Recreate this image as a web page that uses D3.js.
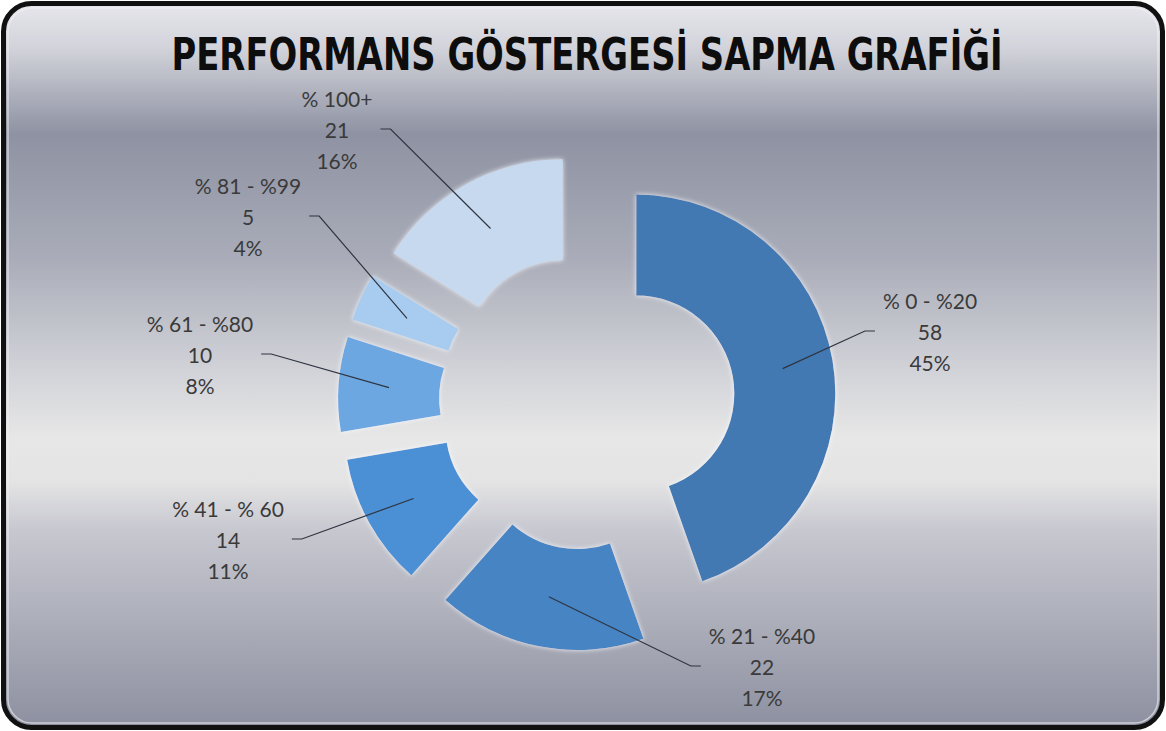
<!DOCTYPE html>
<html>
<head>
<meta charset="utf-8">
<title>Performans Göstergesi Sapma Grafiği</title>
<script src="https://d3js.org/d3.v7.min.js"></script>
<style>
  body { margin: 0; background: #fff; }
</style>
</head>
<body>
<div id="chart"></div>
<script>
// data
const categories = ["% 0 - %20", "% 21 - %40", "% 41 - % 60", "% 61 - %80", "% 81 - %99", "% 100+"];
const counts = [58, 22, 14, 10, 5, 21];
const percents = ["45%", "17%", "11%", "8%", "4%", "16%"];
const sliceColors = ["#4279b3", "#4684c3", "#4b90d4", "#6ca7e1", "#a8ccf0", "#c6d9ef"];

// label anchors (middle line), relative to the donut centre
const labelOffsets = [[343, -69], [175, 266], [-359, 139], [-387, -46], [-339, -184], [-250, -271]];

const width = 1166, height = 731;
const cx = 587, cy = 402;
const outerR = 199, innerR = 98, explode = 50;

const svg = d3.select("#chart").append("svg")
    .attr("width", width)
    .attr("height", height);

const defs = svg.append("defs");

// background gradient
const bg = defs.append("linearGradient")
    .attr("id", "bg")
    .attr("x1", 0).attr("y1", 0).attr("x2", 0).attr("y2", 1);
[[0, "#e6e6ec"], [0.06, "#d3d4db"], [0.18, "#8e92a2"], [0.35, "#a9acb8"],
 [0.5, "#d0d1d7"], [0.6, "#e7e7e7"], [0.66, "#e4e4e4"], [0.73, "#c6c7cf"], [1, "#8d90a0"]]
    .forEach(s => bg.append("stop").attr("offset", s[0]).attr("stop-color", s[1]));

const glow = defs.append("filter").attr("id", "glow")
    .attr("x", -0.1).attr("y", -0.1).attr("width", 1.2).attr("height", 1.2);
glow.append("feGaussianBlur").attr("in", "SourceGraphic").attr("stdDeviation", 2.5).attr("result", "b");
glow.append("feColorMatrix").attr("in", "b").attr("type", "matrix")
    .attr("values", "0 0 0 0 0.93  0 0 0 0 0.96  0 0 0 0 1  0 0 0 0.9 0").attr("result", "w");
const gm = glow.append("feMerge");
gm.append("feMergeNode").attr("in", "w");
gm.append("feMergeNode").attr("in", "SourceGraphic");

// frame
svg.append("rect")
    .attr("x", 3.5).attr("y", 3.5)
    .attr("width", width - 7).attr("height", height - 7)
    .attr("rx", 28).attr("ry", 28)
    .attr("fill", "url(#bg)")
    .attr("stroke", "#111")
    .attr("stroke-width", 5);
svg.append("rect")
    .attr("x", 8).attr("y", 8)
    .attr("width", width - 16).attr("height", height - 16)
    .attr("rx", 24).attr("ry", 24)
    .attr("fill", "none")
    .attr("stroke", "#f4f4f6")
    .attr("stroke-opacity", 0.6)
    .attr("stroke-width", 1.5);

// title
svg.append("text")
    .attr("x", cx)
    .attr("y", 70)
    .attr("text-anchor", "middle")
    .attr("font-family", "'Liberation Sans Narrow', 'DejaVu Sans Condensed', sans-serif")
    .attr("font-weight", "bold")
    .attr("font-size", 44)
    .attr("fill", "#0d0d0d")
    .attr("textLength", 831)
    .attr("lengthAdjust", "spacingAndGlyphs")
    .text("PERFORMANS GÖSTERGESİ SAPMA GRAFİĞİ");

// donut
const pie = d3.pie().sort(null).value(d => d)(counts);
const arc = d3.arc().innerRadius(innerR).outerRadius(outerR);

const slices = pie.map((p, i) => {
    const mid = (p.startAngle + p.endAngle) / 2;
    return { p, i, dx: Math.sin(mid) * explode, dy: -Math.cos(mid) * explode };
});

const g = svg.append("g").attr("transform", `translate(${cx},${cy})`);

g.selectAll("path.slice")
    .data(slices)
    .join("path")
    .attr("class", "slice")
    .attr("transform", d => `translate(${d.dx},${d.dy})`)
    .attr("d", d => arc(d.p))
    .attr("fill", d => sliceColors[d.i])
    .attr("filter", "url(#glow)");

// labels
const lineH = 31;
const labels = g.selectAll("g.label")
    .data(slices)
    .join("g")
    .attr("class", "label")
    .attr("transform", d => `translate(${labelOffsets[d.i][0]},${labelOffsets[d.i][1]})`);

labels.each(function(d) {
    const lg = d3.select(this);
    const lines = [categories[d.i], String(counts[d.i]), percents[d.i]];
    lines.forEach((t, k) => {
        lg.append("text")
            .attr("x", 0)
            .attr("y", (k - 1) * lineH)
            .attr("dy", "0.35em")
            .attr("text-anchor", "middle")
            .attr("font-family", "Lato, 'Liberation Sans', sans-serif")
            .attr("font-size", 21)
            .attr("fill", "#3a3a3a")
            .text(t);
    });
    let w = 0;
    lg.selectAll("text").each(function() { w = Math.max(w, this.getComputedTextLength()); });
    d.halfW = w / 2;
});

// leader lines
g.selectAll("path.leader")
    .data(slices)
    .join("path")
    .attr("class", "leader")
    .attr("fill", "none")
    .attr("stroke", "#2e3440")
    .attr("stroke-width", 1.2)
    .attr("d", d => {
        const c = arc.centroid(d.p);
        const ex = c[0] + d.dx, ey = c[1] + d.dy;
        const lx = labelOffsets[d.i][0], ly = labelOffsets[d.i][1];
        const side = ex > lx ? 1 : -1;
        const sx = lx + side * (d.halfW + 8);
        const sy = ly - 2;
        return d3.line()([[sx, sy], [sx + side * 10, sy], [ex, ey]]);
    });
</script>
</body>
</html>
